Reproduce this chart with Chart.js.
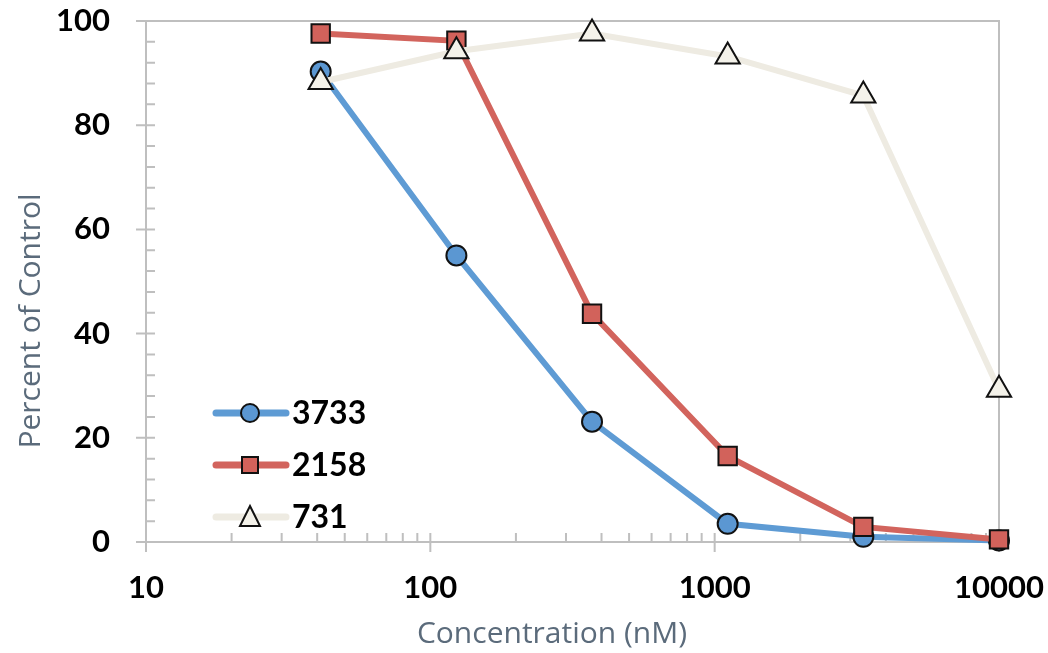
<!DOCTYPE html>
<html>
<head>
<meta charset="utf-8">
<script src="https://cdn.jsdelivr.net/npm/chart.js@4/dist/chart.umd.min.js"></script>
<style>
  html, body { margin: 0; padding: 0; background: #fff; }
  #wrap { width: 1048px; height: 653px; }
</style>
</head>
<body>
<div id="wrap"><canvas id="myChart" width="1048" height="653"></canvas></div>
<script>
// concentrations (nM), 3-fold dilution series
const concentrations = [41.15, 123.5, 370.4, 1111, 3333, 10000];

// percent of control for each compound
const series3733 = [90.3, 55.0, 23.1, 3.5, 1.0, 0.3];
const series2158 = [97.6, 96.2, 43.8, 16.5, 2.9, 0.5];
const series731 = [88.3, 94.2, 97.6, 93.2, 85.7, 29.2];

const seriesNames = ['3733', '2158', '731'];
const xTickValues = [10, 100, 1000, 10000];
const yTickValues = [0, 20, 40, 60, 80, 100];

const axisGray = '#bfbfbf';
const titleColor = '#5b6b7b';

function toPoints(values) {
    let pts = [];
    for (let i = 0; i < concentrations.length; i++) {
        pts.push({ x: concentrations[i], y: values[i] });
    }
    return pts;
}

// stop chart.js from shrinking the plot for the edge labels
function noEdgePadding(scale) {
    scale.paddingTop = 0;
    scale.paddingBottom = 0;
    scale.paddingLeft = 0;
    scale.paddingRight = 0;
}

// draws the frame, the crossing major ticks and the inside minor ticks
const framePlugin = {
    id: 'frame',
    beforeDatasetsDraw(chart) {
        const ctx = chart.ctx;
        const a = chart.chartArea;
        const xs = chart.scales.x;
        const ys = chart.scales.y;
        ctx.save();
        ctx.strokeStyle = axisGray;
        ctx.lineWidth = 2;
        ctx.strokeRect(a.left, a.top, a.right - a.left, a.bottom - a.top);

        ctx.beginPath();
        // y minor ticks every 4
        for (let v = 0; v <= 100; v += 4) {
            if (v % 20 === 0) continue;
            const y = ys.getPixelForValue(v);
            ctx.moveTo(a.left, y);
            ctx.lineTo(a.left + 9, y);
        }
        // y major ticks
        for (const v of yTickValues) {
            const y = ys.getPixelForValue(v);
            ctx.moveTo(a.left - 10, y);
            ctx.lineTo(a.left + 9, y);
        }
        // x minor ticks
        for (let d = 10; d < 10000; d *= 10) {
            for (let m = 2; m <= 9; m++) {
                const x = xs.getPixelForValue(d * m);
                ctx.moveTo(x, a.bottom);
                ctx.lineTo(x, a.bottom - 9);
            }
        }
        // x major ticks
        for (const v of xTickValues) {
            const x = xs.getPixelForValue(v);
            ctx.moveTo(x, a.bottom - 9);
            ctx.lineTo(x, a.bottom + 10);
        }
        ctx.stroke();
        ctx.restore();
    },
    afterDraw(chart) {
        const ctx = chart.ctx;
        ctx.save();
        ctx.fillStyle = titleColor;
        ctx.font = '30px "Open Sans"';
        ctx.textAlign = 'center';
        ctx.textBaseline = 'middle';
        ctx.fillText('Concentration (nM)', 552, 634);
        ctx.translate(31, 321);
        ctx.rotate(-Math.PI / 2);
        ctx.fillText('Percent of Control', 0, 0);
        ctx.restore();
    }
};

// legend drawn inside the plot, bottom left
const legendPlugin = {
    id: 'insideLegend',
    afterDraw(chart) {
        const ctx = chart.ctx;
        const rows = [413, 465, 517];
        chart.data.datasets.forEach((ds, i) => {
            const y = rows[i];
            ctx.save();
            ctx.strokeStyle = ds.borderColor;
            ctx.lineWidth = 7;
            ctx.lineCap = 'round';
            ctx.beginPath();
            ctx.moveTo(216, y);
            ctx.lineTo(286, y);
            ctx.stroke();

            ctx.fillStyle = ds.pointBackgroundColor;
            ctx.strokeStyle = ds.pointBorderColor;
            ctx.lineWidth = 2;
            ctx.beginPath();
            const cx = 250;
            if (ds.pointStyle === 'circle') {
                ctx.arc(cx, y, 9, 0, Math.PI * 2);
            } else if (ds.pointStyle === 'rect') {
                ctx.rect(cx - 8, y - 8, 16, 16);
            } else {
                ctx.moveTo(cx, y - 11);
                ctx.lineTo(cx + 10, y + 9);
                ctx.lineTo(cx - 10, y + 9);
                ctx.closePath();
            }
            ctx.fill();
            ctx.stroke();

            ctx.fillStyle = '#000';
            ctx.font = 'bold 32px Lato';
            ctx.textAlign = 'left';
            ctx.textBaseline = 'middle';
            ctx.fillText(ds.label, 292, y + 1);
            ctx.restore();
        });
    }
};

function displayChart() {
    const elCanvas = document.getElementById('myChart').getContext('2d');

    new Chart(elCanvas, {
        type: 'line',
        data: {
            datasets: [
                {
                    label: seriesNames[0],
                    data: toPoints(series3733),
                    borderColor: '#5e9bd4',
                    borderWidth: 6,
                    pointStyle: 'circle',
                    pointRadius: 10,
                    pointBackgroundColor: '#5b97d2',
                    pointBorderColor: '#111',
                    pointBorderWidth: 2,
                    clip: false,
                    order: 3
                },
                {
                    label: seriesNames[1],
                    data: toPoints(series2158),
                    borderColor: '#d2645d',
                    borderWidth: 6,
                    pointStyle: 'rect',
                    pointRadius: 13,
                    pointBackgroundColor: '#d2625b',
                    pointBorderColor: '#111',
                    pointBorderWidth: 2,
                    clip: false,
                    order: 2
                },
                {
                    label: seriesNames[2],
                    data: toPoints(series731),
                    borderColor: '#eeebe2',
                    borderWidth: 6,
                    pointStyle: 'triangle',
                    pointRadius: 14,
                    pointBackgroundColor: '#f4f2ea',
                    pointBorderColor: '#111',
                    pointBorderWidth: 2,
                    clip: false,
                    order: 1
                }
            ]
        },
        options: {
            responsive: false,
            animation: false,
            layout: { padding: { left: 0, right: 49, top: 21, bottom: 0 } },
            plugins: {
                legend: { display: false },
                tooltip: { enabled: false }
            },
            elements: { line: { tension: 0 } },
            scales: {
                x: {
                    type: 'logarithmic',
                    min: 10,
                    max: 10000,
                    afterBuildTicks: (scale) => {
                        scale.ticks = xTickValues.map(v => ({ value: v }));
                    },
                    afterFit: (scale) => {
                        scale.height = 111;
                        noEdgePadding(scale);
                    },
                    grid: { display: false, drawTicks: false },
                    border: { display: false },
                    ticks: {
                        autoSkip: false,
                        maxRotation: 0,
                        padding: 27,
                        color: '#000',
                        font: { family: 'Lato', size: 31, weight: 'bold' },
                        callback: (v) => String(v)
                    }
                },
                y: {
                    min: 0,
                    max: 100,
                    afterBuildTicks: (scale) => {
                        scale.ticks = yTickValues.map(v => ({ value: v }));
                    },
                    afterFit: (scale) => {
                        scale.width = 146;
                        noEdgePadding(scale);
                    },
                    grid: { display: false, drawTicks: false },
                    border: { display: false },
                    ticks: {
                        padding: 36,
                        color: '#000',
                        font: { family: 'Lato', size: 31, weight: 'bold' }
                    }
                }
            }
        },
        plugins: [framePlugin, legendPlugin]
    });
}

Promise.all([
    document.fonts.load('bold 31px Lato'),
    document.fonts.load('30px "Open Sans"')
]).then(displayChart, displayChart);
</script>
</body>
</html>
